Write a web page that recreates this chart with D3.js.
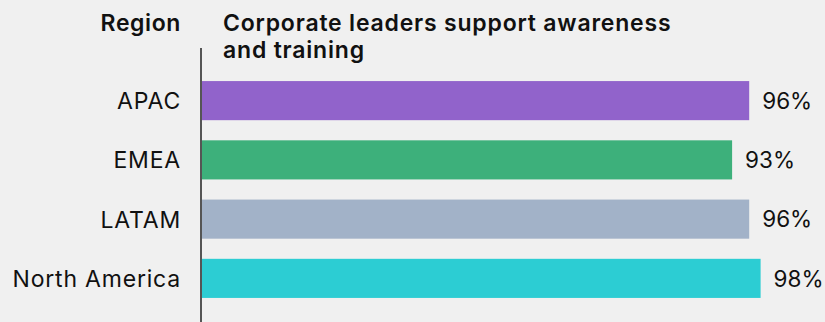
<!DOCTYPE html>
<html>
<head>
<meta charset="utf-8">
<script src="https://cdn.jsdelivr.net/npm/d3@7"></script>
<style>
  html, body { margin: 0; padding: 0; background: #f0f0f0; }
  svg { display: block; font-family: Inter, "Noto Sans", sans-serif; }
</style>
</head>
<body>
<svg id="chart" width="825" height="322"></svg>
<script>
// Share of corporate leaders who support awareness and training, by region
const regions = ["APAC", "EMEA", "LATAM", "North America"];
const supportPct = [96, 93, 96, 98];
const barColors = ["#9163cb", "#3db07b", "#a2b2c8", "#2ccdd3"];
const headerLeft = "Region";
const headerRight = ["Corporate leaders support awareness", "and training"];

const svg = d3.select("#chart");
const axisX = 201;

const x = d3.scaleLinear().domain([0, 100]).range([axisX + 1, axisX + 1 + 570]);
const y = d3.scaleBand().domain(regions).range([71, 308]).paddingInner(0.34).paddingOuter(0.17);

// Column headers
svg.append("text")
  .attr("x", 181).attr("y", 30.5)
  .attr("text-anchor", "end")
  .attr("font-size", 23).attr("font-weight", 600).attr("fill", "#111")
  .attr("letter-spacing", 0.6)
  .text(headerLeft);

svg.append("text")
  .attr("font-size", 23).attr("font-weight", 600).attr("fill", "#111")
  .attr("letter-spacing", 0.8)
  .selectAll("tspan").data(headerRight).join("tspan")
  .attr("x", 223).attr("y", (d, i) => 30.5 + i * 27.8)
  .text(d => d);

// Bars
const rows = regions.map((r, i) => ({ region: r, value: supportPct[i], color: barColors[i] }));

svg.selectAll("rect.bar").data(rows).join("rect")
  .attr("class", "bar")
  .attr("x", x(0))
  .attr("y", d => y(d.region))
  .attr("width", d => x(d.value) - x(0))
  .attr("height", y.bandwidth())
  .attr("fill", d => d.color);

// Category labels
svg.selectAll("text.cat").data(rows).join("text")
  .attr("class", "cat")
  .attr("x", 181)
  .attr("y", d => y(d.region) + y.bandwidth() / 2)
  .attr("dy", "0.37em")
  .attr("text-anchor", "end")
  .attr("font-size", 23).attr("fill", "#111")
  .attr("letter-spacing", 0.8)
  .text(d => d.region);

// Value labels
svg.selectAll("text.val").data(rows).join("text")
  .attr("class", "val")
  .attr("x", d => x(d.value) + 13)
  .attr("y", d => y(d.region) + y.bandwidth() / 2)
  .attr("dy", "0.37em")
  .attr("font-size", 22.5).attr("fill", "#111")
  .text(d => d.value + "%");

// Vertical baseline
svg.append("line")
  .attr("x1", axisX).attr("x2", axisX)
  .attr("y1", 48).attr("y2", 322)
  .attr("stroke", "#222").attr("stroke-width", 1.5);
</script>
</body>
</html>
